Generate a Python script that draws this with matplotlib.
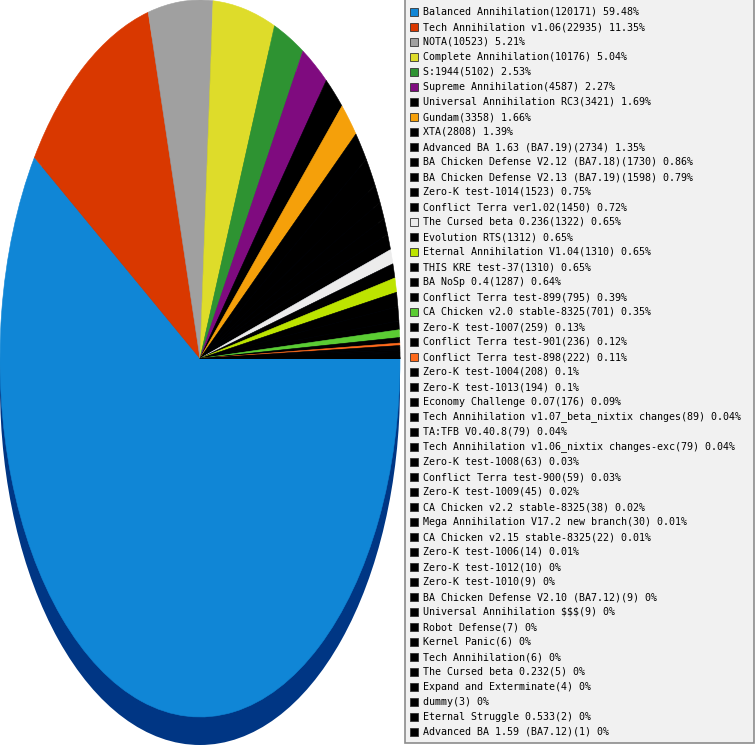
import matplotlib
matplotlib.use("Agg")
import matplotlib.pyplot as plt
from matplotlib.patches import Rectangle, Ellipse

names = [
    "Balanced Annihilation", "Tech Annihilation v1.06", "NOTA", "Complete Annihilation",
    "S:1944", "Supreme Annihilation", "Universal Annihilation RC3", "Gundam", "XTA",
    "Advanced BA 1.63 (BA7.19)", "BA Chicken Defense V2.12 (BA7.18)",
    "BA Chicken Defense V2.13 (BA7.19)", "Zero-K test-1014", "Conflict Terra ver1.02",
    "The Cursed beta 0.236", "Evolution RTS", "Eternal Annihilation V1.04",
    "THIS KRE test-37", "BA NoSp 0.4", "Conflict Terra test-899",
    "CA Chicken v2.0 stable-8325", "Zero-K test-1007", "Conflict Terra test-901",
    "Conflict Terra test-898", "Zero-K test-1004", "Zero-K test-1013",
    "Economy Challenge 0.07", "Tech Annihilation v1.07_beta_nixtix changes",
    "TA:TFB V0.40.8", "Tech Annihilation v1.06_nixtix changes-exc", "Zero-K test-1008",
    "Conflict Terra test-900", "Zero-K test-1009", "CA Chicken v2.2 stable-8325",
    "Mega Annihilation V17.2 new branch", "CA Chicken v2.15 stable-8325",
    "Zero-K test-1006", "Zero-K test-1012", "Zero-K test-1010",
    "BA Chicken Defense V2.10 (BA7.12)", "Universal Annihilation $$$", "Robot Defense",
    "Kernel Panic", "Tech Annihilation", "The Cursed beta 0.232",
    "Expand and Exterminate", "dummy", "Eternal Struggle 0.533",
    "Advanced BA 1.59 (BA7.12)",
]
counts = [
    120171, 22935, 10523, 10176, 5102, 4587, 3421, 3358, 2808, 2734, 1730, 1598, 1523,
    1450, 1322, 1312, 1310, 1310, 1287, 795, 701, 259, 236, 222, 208, 194, 176, 89, 79,
    79, 63, 59, 45, 38, 30, 22, 14, 10, 9, 9, 9, 7, 6, 6, 5, 4, 3, 2, 1,
]
percents = [
    "59.48", "11.35", "5.21", "5.04", "2.53", "2.27", "1.69", "1.66", "1.39", "1.35",
    "0.86", "0.79", "0.75", "0.72", "0.65", "0.65", "0.65", "0.65", "0.64", "0.39",
    "0.35", "0.13", "0.12", "0.11", "0.1", "0.1", "0.09", "0.04", "0.04", "0.04",
    "0.03", "0.03", "0.02", "0.02", "0.01", "0.01", "0.01", "0", "0", "0", "0", "0",
    "0", "0", "0", "0", "0", "0", "0",
]
special_colors = {
    0: "#1086d6", 1: "#d93800", 2: "#a0a0a0", 3: "#dedc2a", 4: "#2e9332",
    5: "#7f0b7f", 7: "#f5a00a", 14: "#ececec", 16: "#bde400", 20: "#5bcc33",
    23: "#ff6a1a",
}
colors = [special_colors.get(i, "#000000") for i in range(len(names))]

W, H = 755, 745
fig = plt.figure(figsize=(W / 100, H / 100), dpi=100)

# pie axes: pixel box x 0..400, y 0..717 (from top)
pie_ax = fig.add_axes([0 / W, (H - 717) / H, 400 / W, 717 / H])
shadow_off = 28 / 358.5
pie_ax.add_patch(Ellipse((0, -shadow_off), 2, 2, facecolor="#003684",
                         edgecolor="none", clip_on=False, zorder=0))
wedges, _ = pie_ax.pie(counts, colors=colors, startangle=0, counterclock=False,
                       radius=1, wedgeprops=dict(linewidth=0.4))
for w in wedges:
    w.set_zorder(1)
    w.set_clip_on(False)
    w.set_edgecolor(w.get_facecolor())
pie_ax.set_aspect("auto")
pie_ax.set_xlim(-1, 1)
pie_ax.set_ylim(-1, 1)
pie_ax.axis("off")

# legend overlay in pixel coordinates
lg = fig.add_axes([0, 0, 1, 1])
lg.set_xlim(0, W)
lg.set_ylim(H, 0)
lg.axis("off")
lg.patch.set_alpha(0)
lg.add_patch(Rectangle((405, -1), 349, 744, facecolor="#f1f1f1",
                       edgecolor="#8c8c8c", linewidth=1.2))
for i, (n, c, p) in enumerate(zip(names, counts, percents)):
    y = 12 + 15 * i
    lg.add_patch(Rectangle((410, y - 4), 8, 8, facecolor=colors[i],
                           edgecolor="#333333", linewidth=0.6))
    lg.text(423, y, f"{n}({c}) {p}%", fontsize=7.2, family="DejaVu Sans Mono",
            va="center", ha="left", color="#000000", parse_math=False)

fig.savefig("out.png", dpi=100)
